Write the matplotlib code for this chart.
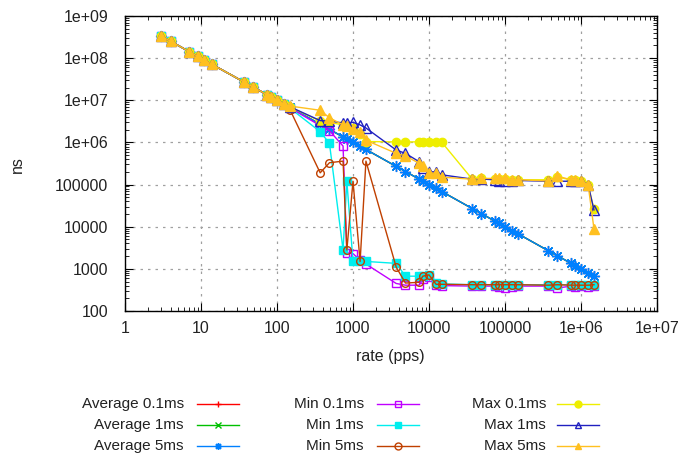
import matplotlib
matplotlib.use("Agg")
import matplotlib.pyplot as plt
from matplotlib.lines import Line2D
from matplotlib.ticker import LogLocator, FixedLocator, FuncFormatter, NullFormatter

plt.rcParams['font.family'] = ['Liberation Sans', 'DejaVu Sans']

# ---------------- data ----------------
rates = [3, 4, 7, 9, 11, 14, 37, 49, 74, 83, 100, 123,
         148, 370, 490, 740, 830, 1000, 1240, 1480,
         3700, 4900, 7400, 8300, 10000, 12400, 14800,
         37000, 49000, 74000, 83000, 100000, 124000, 148000,
         370000, 490000, 740000, 830000, 1000000, 1240000, 1480000]

common_low = [3.33e8, 2.5e8, 1.43e8, 1.11e8, 9.1e7, 7.1e7, 2.7e7, 2.04e7,
              1.35e7, 1.2e7, 1.0e7, 8.1e6]

avg_01 = common_low + [6.8e6, 2.7e6, 2.04e6, 1.35e6, 1.2e6, 1.0e6, 8.1e5, 6.8e5,
                       2.7e5, 2.04e5, 1.35e5, 1.2e5, 1.0e5, 8.1e4, 6.8e4,
                       2.7e4, 2.04e4, 1.35e4, 1.2e4, 1.0e4, 8.1e3, 6.8e3,
                       2.7e3, 2.04e3, 1.35e3, 1.2e3, 1.0e3, 810, 690]
avg_1 = common_low + [6.8e6, 2.7e6, 2.04e6, 1.35e6, 1.2e6, 1.0e6, 8.1e5, 6.8e5,
                      2.7e5, 2.04e5, 1.35e5, 1.2e5, 1.0e5, 8.1e4, 6.8e4,
                      2.7e4, 2.04e4, 1.35e4, 1.2e4, 1.0e4, 8.1e3, 6.8e3,
                      2.7e3, 2.04e3, 1.35e3, 1.2e3, 1.0e3, 810, 690]
avg_5 = common_low + [6.8e6, 2.7e6, 2.04e6, 1.35e6, 1.2e6, 1.0e6, 8.1e5, 6.8e5,
                      2.7e5, 2.04e5, 1.35e5, 1.2e5, 1.0e5, 8.1e4, 6.8e4,
                      2.7e4, 2.04e4, 1.35e4, 1.2e4, 1.0e4, 8.1e3, 6.8e3,
                      2.7e3, 2.04e3, 1.35e3, 1.2e3, 1.0e3, 810, 690]
min_01 = common_low + [6.6e6, 2.5e6, 1.9e6, 8.2e5, 2400, 2300, 1600, 1300,
                       450, 410, 410, 560, 650, 420, 400,
                       390, 390, 390, 380, 350, 380, 390,
                       390, 350, 390, 380, 390, 380, 400]
min_1 = common_low + [6.5e6, 1.8e6, 9.5e5, 2800, 1.2e5, 1500, 1500, 1500,
                      1350, 670, 670, 680, 720, 450, 440,
                      420, 420, 420, 420, 420, 420, 420,
                      420, 420, 420, 420, 420, 420, 420]
min_5 = common_low + [6.0e6, 1.9e5, 3.3e5, 3.6e5, 2800, 1.2e5, 1500, 3.6e5,
                      1100, 460, 480, 670, 720, 430, 430,
                      420, 420, 420, 420, 420, 420, 420,
                      410, 420, 410, 410, 410, 410, 420]
max_01 = common_low + [6.9e6, 3.2e6, 3.0e6, 2.6e6, 2.5e6, 2.2e6, 1.6e6, 1.05e6,
                       1.03e6, 1.03e6, 1.03e6, 1.0e6, 1.0e6, 1.0e6, 1.0e6,
                       1.35e5, 1.4e5, 1.35e5, 1.35e5, 1.35e5, 1.3e5, 1.3e5,
                       1.3e5, 1.5e5, 1.3e5, 1.3e5, 1.2e5, 1.0e5, 2.6e4]
max_1 = common_low + [7.0e6, 3.3e6, 3.2e6, 2.9e6, 2.9e6, 3.0e6, 2.6e6, 2.2e6,
                      6.6e5, 5.5e5, 3.5e5, 2.5e5, 2.0e5, 2.0e5, 1.7e5,
                      1.35e5, 1.35e5, 1.3e5, 1.2e5, 1.2e5, 1.2e5, 1.25e5,
                      1.2e5, 1.2e5, 1.2e5, 1.2e5, 1.2e5, 1.0e5, 2.5e4]
max_5 = common_low + [7.3e6, 5.8e6, 3.85e6, 2.6e6, 2.4e6, 2.1e6, 1.8e6, 1.13e6,
                      5.5e5, 4.8e5, 3.2e5, 2.8e5, 1.9e5, 1.85e5, 1.5e5,
                      1.34e5, 1.4e5, 1.4e5, 1.45e5, 1.4e5, 1.3e5, 1.3e5,
                      1.22e5, 1.58e5, 1.3e5, 1.3e5, 1.2e5, 1.0e5, 9000]

labels = ["Average 0.1ms", "Average 1ms", "Average 5ms",
          "Min 0.1ms", "Min 1ms", "Min 5ms",
          "Max 0.1ms", "Max 1ms", "Max 5ms"]
series = [avg_01, avg_1, avg_5, min_01, min_1, min_5, max_01, max_1, max_5]
x_ticks = [1, 10, 100, 1000, 10000, 100000, 1e6, 1e7]
y_ticks = [100, 1000, 10000, 100000, 1e6, 1e7, 1e8, 1e9]

# ---------------- styles ----------------
colors = ['#FF0000', '#00C000', '#0080FF', '#C000FF', '#00EEEE',
          '#C04000', '#EEEE00', '#2020C0', '#FFC020']
markers = ['+', 'x', (8, 2, 0), 's', 's', 'o', 'o', '^', '^']
filled = [True, True, True, False, True, False, True, False, True]
msizes = [7, 6, 8, 6, 6, 5.5, 6, 7, 7.5]

W, H = 682, 453
fig = plt.figure(figsize=(W / 100, H / 100), dpi=100)
ax = fig.add_axes([125 / W, 1 - 311 / H, (657 - 125) / W, (311 - 16) / H])

for vals, c, m, f, ms in zip(series, colors, markers, filled, msizes):
    ax.plot(rates, vals, color=c, lw=1.0, marker=m, ms=ms,
            markerfacecolor=(c if f else 'none'), markeredgecolor=c,
            markeredgewidth=1.0)

ax.set_xscale('log')
ax.set_yscale('log')
ax.set_xlim(1, 1e7)
ax.set_ylim(100, 1e9)


def fmt(v, pos=None):
    if v >= 1e6:
        e = int(round(__import__('math').log10(v)))
        return "1e+%02d" % e
    return "%d" % int(round(v))


ax.xaxis.set_major_locator(FixedLocator(x_ticks))
ax.yaxis.set_major_locator(FixedLocator(y_ticks))
ax.xaxis.set_major_formatter(FuncFormatter(fmt))
ax.yaxis.set_major_formatter(FuncFormatter(fmt))
ax.xaxis.set_minor_locator(LogLocator(base=10, subs=range(2, 10), numticks=20))
ax.yaxis.set_minor_locator(LogLocator(base=10, subs=range(2, 10), numticks=20))
ax.xaxis.set_minor_formatter(NullFormatter())
ax.yaxis.set_minor_formatter(NullFormatter())
ax.tick_params(which='both', direction='in', top=True, right=True, colors='black')
ax.tick_params(which='major', length=6, width=0.8, labelsize=11.5, pad=7, labelcolor='#222222')
ax.tick_params(which='minor', length=3, width=0.6)
ax.tick_params(axis='y', which='major', pad=12)
ax.grid(True, which='major', color='#A0A0A0', linestyle=(0, (2, 4)), lw=0.9)
for s in ax.spines.values():
    s.set_linewidth(1.0)
    s.set_color('black')

fig.text(17 / W, 1 - 165 / H, "ns", rotation=90, ha='center', va='center',
         fontsize=11.5, color='#222222')
fig.text(390 / W, 1 - 357 / H, "rate (pps)", ha='center', va='center',
         fontsize=11.5, color='#222222')

# ---------------- legend ----------------
row_y = [404, 425, 446]
text_right = [184, 364, 546]
line_start = [197, 377, 557]
line_len = 42
for i, (lab, c, m, f) in enumerate(zip(labels, colors, markers, filled)):
    col, row = divmod(i, 3)
    yy = 1 - row_y[row] / H
    fig.text(text_right[col] / W, yy, lab, ha='right', va='center',
             fontsize=11, color='#222222')
    x0 = line_start[col] / W
    x1 = (line_start[col] + line_len) / W
    fig.add_artist(Line2D([x0, x1], [yy, yy], transform=fig.transFigure,
                          color=c, lw=1.0))
    fig.add_artist(Line2D([(x0 + x1) / 2], [yy], transform=fig.transFigure,
                          color=c, lw=0, marker=m, ms=5,
                          markerfacecolor=(c if f else 'none'),
                          markeredgecolor=c, markeredgewidth=1.0))

fig.savefig("out.png", dpi=100)
